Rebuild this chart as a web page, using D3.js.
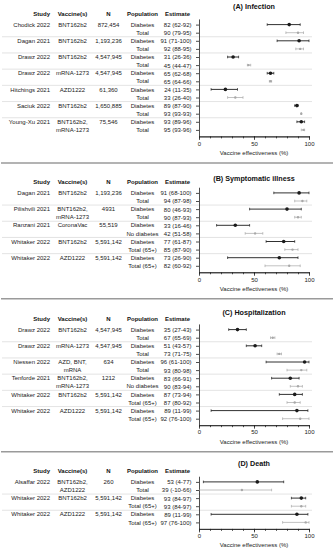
<!DOCTYPE html>
<html>
<head>
<meta charset="utf-8">
<style>
    body { margin: 0; background: white; }
    svg { display: block; font-family: "Liberation Sans", Arial, sans-serif; }
    .cell { font-size: 6px; fill: #222; }
    .head { font-size: 6px; font-weight: bold; fill: #111; }
    .title { font-size: 7.2px; font-weight: bold; fill: #111; }
    .axis text { font-size: 6px; fill: #222; font-family: "Liberation Sans", Arial, sans-serif; }
    .axis path, .axis line { stroke: #222; stroke-width: 0.8; }
</style>
</head>
<body>
<svg width="334" height="550"></svg>
<script src="https://d3js.org/d3.v7.min.js"></script>
<script>
// panels
var panels = ["(A) Infection", "(B) Symptomatic illness", "(C) Hospitalization", "(D) Death"];
var headers = ["Study", "Vaccine(s)", "N", "Population", "Estimate"];
var xTicks = [0, 50, 100];

// one entry per study (two rows each)
var groupPanel = [0, 0, 0, 0, 0, 0, 0, 1, 1, 1, 1, 1, 2, 2, 2, 2, 2, 2, 3, 3, 3];
var groupStudy = ["Chodick 2022", "Dagan 2021", "Drawz 2022", "Drawz 2022", "Hitchings 2021", "Saciuk 2022", "Young-Xu 2021",
    "Dagan 2021", "Pilishvili 2021", "Ranzani 2021", "Whitaker 2022", "Whitaker 2022",
    "Drawz 2022", "Drawz 2022", "Niessen 2022", "Tenforde 2021", "Whitaker 2022", "Whitaker 2022",
    "Alsaffar 2022", "Whitaker 2022", "Whitaker 2022"];
var groupVaccine = [["BNT162b2"], ["BNT162b2"], ["BNT162b2"], ["mRNA-1273"], ["AZD1222"], ["BNT162b2"], ["BNT162b2,", "mRNA-1273"],
    ["BNT162b2"], ["BNT162b2,", "mRNA-1273"], ["CoronaVac"], ["BNT162b2"], ["AZD1222"],
    ["BNT162b2"], ["mRNA-1273"], ["AZD, BNT,", "mRNA"], ["BNT162b2,", "mRNA-1273"], ["BNT162b2"], ["AZD1222"],
    ["BNT162b2,", "AZD1222"], ["BNT162b2"], ["AZD1222"]];
var groupN = ["872,454", "1,193,236", "4,547,945", "4,547,945", "61,360", "1,650,885", "75,546",
    "1,193,236", "4931", "55,519", "5,591,142", "5,591,142",
    "4,547,945", "4,547,945", "634", "1212", "5,591,142", "5,591,142",
    "260", "5,591,142", "5,591,142"];

// one entry per row
var population = ["Diabetes", "Total", "Diabetes", "Total", "Diabetes", "Total", "Diabetes", "Total", "Diabetes", "Total", "Diabetes", "Total", "Diabetes", "Total",
    "Diabetes", "Total", "Diabetes", "Total", "Diabetes", "No diabetes", "Diabetes", "Total (65+)", "Diabetes", "Total (65+)",
    "Diabetes", "Total", "Diabetes", "Total", "Diabetes", "Total", "Diabetes", "No diabetes", "Diabetes", "Total (65+)", "Diabetes", "Total (65+)",
    "Diabetes", "Total", "Diabetes", "Total (65+)", "Diabetes", "Total (65+)"];
var estimate = [82, 90, 91, 92, 31, 45, 65, 65, 24, 33, 89, 93, 93, 95,
    91, 94, 80, 90, 33, 51, 77, 85, 73, 82,
    35, 67, 51, 73, 96, 93, 83, 90, 87, 87, 89, 92,
    53, 39, 93, 93, 89, 97];
var lower = [62, 79, 71, 88, 26, 44, 62, 64, 11, 26, 87, 93, 89, 93,
    68, 87, 46, 87, 16, 42, 61, 78, 26, 60,
    27, 65, 43, 71, 61, 80, 66, 83, 73, 80, 11, 76,
    4, -10, 84, 84, 11, 76];
var upper = [92, 95, 100, 95, 36, 47, 68, 66, 35, 40, 90, 93, 96, 96,
    100, 98, 93, 93, 46, 58, 87, 90, 90, 92,
    43, 69, 57, 75, 100, 98, 91, 94, 94, 92, 99, 100,
    77, 66, 97, 97, 99, 100];
var estLabel = ["82 (62-92)", "90 (79-95)", "91 (71-100)", "92 (88-95)", "31 (26-36)", "45 (44-47)", "65 (62-68)", "65 (64-66)",
    "24 (11-35)", "33 (26-40)", "89 (87-90)", "93 (93-93)", "93 (89-96)", "95 (93-96)",
    "91 (68-100)", "94 (87-98)", "80 (46-93)", "90 (87-93)", "33 (16-46)", "42 (51-58)", "77 (61-87)", "85 (87-90)", "73 (26-90)", "82 (60-92)",
    "35 (27-43)", "67 (65-69)", "51 (43-57)", "73 (71-75)", "96 (61-100)", "93 (80-98)", "83 (66-91)", "90 (83-94)",
    "87 (73-94)", "87 (80-92)", "89 (11-99)", "92 (76-100)",
    "53 (4-77)", "39 (-10-66)", "93 (84-97)", "93 (84-97)", "89 (11-99)", "97 (76-100)"];

// layout
var titleY = [6, 178.3, 312.7, 463.3],
    headY = [14, 182.3, 319, 471.3],
    pitch = 8.1,
    colX = [50, 72.5, 108.5, 142.5, 177.5],
    colAnchor = ["end", "middle", "middle", "middle", "middle"];

var svg = d3.select("svg");
var x = d3.scaleLinear().domain([0, 100]).range([199, 309]);

var rowStart = 0;

panels.forEach(function (title, p) {
    var groups = d3.range(groupPanel.length).filter(function (g) { return groupPanel[g] === p; });
    var n = groups.length * 2;
    var rows = d3.range(rowStart, rowStart + n);
    var first = headY[p] + 10.6;
    var y = d3.scaleLinear().domain([-0.7, n - 0.2]).range([first - 0.7 * pitch, first + (n - 0.2) * pitch]);
    var axisY = y(n - 0.2);
    var g = svg.append("g");

    // title + header
    g.append("text").attr("class", "title")
        .attr("x", (x(0) + x(100)) / 2).attr("y", titleY[p]).attr("dy", "0.35em")
        .attr("text-anchor", "middle").text(title);
    headers.forEach(function (h, i) {
        g.append("text").attr("class", "head")
            .attr("x", colX[i]).attr("y", headY[p]).attr("dy", "0.35em")
            .attr("text-anchor", colAnchor[i]).text(h);
    });

    // study separators
    g.selectAll(".sep").data(groups.slice(0, -1)).enter().append("line")
        .attr("x1", 2).attr("x2", 312)
        .attr("y1", function (d, i) { return y(i * 2 + 1.5); })
        .attr("y2", function (d, i) { return y(i * 2 + 1.5); })
        .attr("stroke", "#d0d0d0").attr("stroke-width", 0.6);

    // study, vaccine, N
    groups.forEach(function (gi, k) {
        var r = k * 2;
        g.append("text").attr("class", "cell").attr("x", colX[0]).attr("y", y(r)).attr("dy", "0.35em")
            .attr("text-anchor", "end").text(groupStudy[gi]);
        groupVaccine[gi].forEach(function (v, j) {
            g.append("text").attr("class", "cell").attr("x", colX[1]).attr("y", y(r + j)).attr("dy", "0.35em")
                .attr("text-anchor", "middle").text(v);
        });
        g.append("text").attr("class", "cell").attr("x", colX[2]).attr("y", y(r)).attr("dy", "0.35em")
            .attr("text-anchor", "middle").text(groupN[gi]);
    });

    // population
    g.selectAll(".pop").data(rows).enter().append("text")
        .attr("class", "cell")
        .attr("x", colX[3])
        .attr("y", function (d, i) { return y(i); })
        .attr("dy", "0.35em")
        .attr("text-anchor", "middle")
        .text(function (d) { return population[d]; });

    // y axis with estimate labels
    g.append("g").attr("class", "axis")
        .attr("transform", "translate(" + x(0) + ",0)")
        .call(d3.axisLeft(y).tickValues(d3.range(n)).tickSize(3).tickSizeOuter(0).tickPadding(4.5)
            .tickFormat(function (i) { return estLabel[rowStart + i]; }))
        .selectAll("text").style("font-size", "6px").attr("fill", "#222");

    // x axis: minor and major ticks
    g.append("g").attr("class", "axis")
        .attr("transform", "translate(0," + axisY + ")")
        .call(d3.axisBottom(x).tickValues(d3.range(0, 101, 10)).tickSize(2).tickSizeOuter(0).tickFormat(""));
    g.append("g").attr("class", "axis")
        .attr("transform", "translate(0," + axisY + ")")
        .call(d3.axisBottom(x).tickValues(xTicks).tickSize(3.5).tickSizeOuter(0).tickPadding(1.5));

    g.append("text").attr("class", "cell")
        .attr("x", (x(0) + x(100)) / 2).attr("y", axisY + 16.3).attr("dy", "0.35em")
        .attr("text-anchor", "middle").text("Vaccine effectiveness (%)");

    // error bars
    var bars = g.selectAll(".bar").data(rows).enter().append("g")
        .attr("transform", function (d, i) { return "translate(0," + y(i) + ")"; });
    var isMain = function (d) { return population[d] === "Diabetes"; };
    var col = function (d) { return isMain(d) ? "#1a1a1a" : "#a8a8a8"; };
    bars.append("line")
        .attr("x1", function (d) { return x(Math.max(0, lower[d])); })
        .attr("x2", function (d) { return x(upper[d]); })
        .attr("stroke", col).attr("stroke-width", function (d) { return isMain(d) ? 0.9 : 0.7; });
    bars.selectAll(".cap").data(function (d) { return lower[d] >= 0 ? [[d, lower[d]], [d, upper[d]]] : [[d, upper[d]]]; })
        .enter().append("line")
        .attr("x1", function (c) { return x(c[1]); }).attr("x2", function (c) { return x(c[1]); })
        .attr("y1", -1.3).attr("y2", 1.3)
        .attr("stroke", function (c) { return col(c[0]); }).attr("stroke-width", 0.7);
    bars.append("circle")
        .attr("cx", function (d) { return x(estimate[d]); })
        .attr("r", function (d) { return isMain(d) ? 1.8 : 1.2; })
        .attr("fill", col);

    // panel separator
    if (p < panels.length - 1) {
        svg.append("line").attr("x1", 1).attr("x2", 333)
            .attr("y1", axisY + 26.5).attr("y2", axisY + 26.5)
            .attr("stroke", "#9a9a9a").attr("stroke-width", 1.5);
    }

    rowStart += n;
});
</script>
</body>
</html>
